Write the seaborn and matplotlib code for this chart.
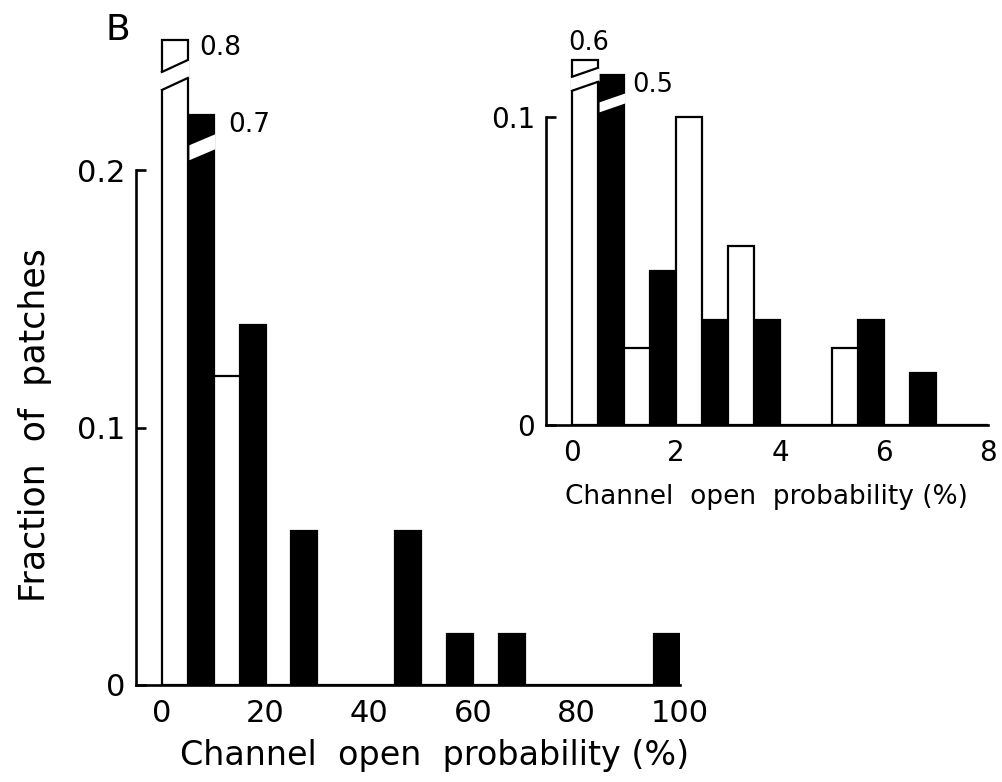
import numpy as np
import pandas as pd
import matplotlib
matplotlib.use("Agg")
import matplotlib.pyplot as plt
import seaborn as sns
from matplotlib.patches import Polygon

# ---------------- data ----------------
main_bin_centers = [5, 15, 25, 35, 45, 55, 65, 75, 85, 95]
main_open = [0.8, 0.12, 0, 0, 0, 0, 0, 0, 0, 0]
main_filled = [0.7, 0.14, 0.06, 0, 0.06, 0.02, 0.02, 0, 0, 0.02]
main_xticks = [0, 20, 40, 60, 80, 100]
main_yticks = [0, 0.1, 0.2]
main_ytick_labels = ["0", "0.1", "0.2"]

inset_bin_centers = [0.5, 1.5, 2.5, 3.5, 4.5, 5.5, 6.5, 7.5]
inset_open = [0.6, 0.025, 0.1, 0.058, 0, 0.025, 0, 0]
inset_filled = [0.5, 0.05, 0.034, 0.034, 0, 0.034, 0.017, 0]
inset_xticks = [0, 2, 4, 6, 8]
inset_yticks = [0, 0.1]
inset_ytick_labels = ["0", "0.1"]

series = ["open", "filled"]
x_label = "Channel  open  probability (%)"
y_label = "Fraction  of  patches"
panel_label = "B"

# ---------------- styling ----------------
sns.set_style("white")
plt.rcParams["font.family"] = ["DejaVu Sans"]
for k in ["text.color", "axes.labelcolor", "xtick.color", "ytick.color", "axes.edgecolor"]:
    plt.rcParams[k] = "black"

W, H = 1003, 782
fig = plt.figure(figsize=(W / 100, H / 100), dpi=100)

EDGE_LW = 1.6
SPINE_LW = 1.9
palette = {"open": "white", "filled": "black"}


def add_axes_px(left, right, bottom, top):
    return fig.add_axes([left / W, 1 - bottom / H, (right - left) / W, (bottom - top) / H])


def make_df(centers, a, b, caps):
    rows = []
    for c, va, vb in zip(centers, a, b):
        rows.append(dict(center=c, series="open", value=va, shown=min(va, caps["open"])))
        rows.append(dict(center=c, series="filled", value=vb, shown=min(vb, caps["filled"])))
    return pd.DataFrame(rows)


def draw_panel(ax, df, binwidth, binrange, xlim, ylim, ybound, xticks, yticks, ylabels,
               caps, brk, lab, tick_fs, lab_fs, xpad):
    sns.histplot(data=df, x="center", weights="shown", hue="series", hue_order=series,
                 palette=palette, multiple="dodge", binwidth=binwidth, binrange=binrange,
                 shrink=1, alpha=1, edgecolor="black", linewidth=EDGE_LW, legend=False, ax=ax)
    ax.set_xlim(*xlim)
    ax.set_ylim(*ylim)
    ax.set_facecolor("none")
    ax.set_xlabel("")
    ax.set_ylabel("")
    for s in ["top", "right"]:
        ax.spines[s].set_visible(False)
    ax.spines["left"].set_bounds(0, ybound)
    for s in ["left", "bottom"]:
        ax.spines[s].set_linewidth(SPINE_LW)
        ax.spines[s].set_color("black")
    ax.set_xticks(xticks)
    ax.set_xticklabels([f"{t:g}" for t in xticks])
    ax.set_yticks(yticks)
    ax.set_yticklabels(ylabels)
    ax.tick_params(axis="y", direction="in", length=7, width=SPINE_LW, pad=8,
                   labelsize=tick_fs, left=True)
    ax.tick_params(axis="x", length=0, pad=xpad, labelsize=tick_fs, bottom=True)

    # pixel -> data conversion
    pos = ax.get_position()
    ax_w_px = pos.width * W
    ax_h_px = pos.height * H
    dxp = (xlim[1] - xlim[0]) / ax_w_px
    dyp = (ylim[1] - ylim[0]) / ax_h_px

    # broken bars
    for p in ax.patches:
        h = p.get_height()
        x0, w = p.get_x(), p.get_width()
        fc = p.get_facecolor()
        s = "open" if fc[0] > 0.5 else "filled"
        if not np.isclose(h, caps[s]):
            continue
        idx = int(np.floor((x0 + w / 2 - binrange[0]) / binwidth))
        sub = df[(df["series"] == s)].reset_index(drop=True)
        val = sub.loc[idx, "value"]
        ub_left, slope, gap = brk[s]
        e = 1.6 * dxp
        xl = x0 - e if s == "open" else x0 + e
        xr = x0 + w + e

        def yub(x):
            return h - ub_left * dyp + slope * dyp * (x - x0) / w

        def ylt(x):
            return yub(x) - gap * dyp

        poly = Polygon([(xl, yub(xl)), (xr, yub(xr)), (xr, ylt(xr)), (xl, ylt(xl))],
                       closed=True, facecolor="white", edgecolor="none", lw=0,
                       zorder=5, clip_on=False)
        ax.add_patch(poly)
        if s == "open":
            for f in (yub, ylt):
                ax.plot([x0, x0 + w], [f(x0), f(x0 + w)], color="black", lw=EDGE_LW,
                        solid_capstyle="projecting", zorder=6, clip_on=False)
        mode, dx, dy = lab[s]
        if mode == "right":
            ax.annotate(f"{val:g}", xy=(x0 + w, h), xytext=(dx * 0.72, -dy * 0.72),
                        textcoords="offset points", ha="left", va="center",
                        fontsize=lab_fs, annotation_clip=False)
        else:
            ax.annotate(f"{val:g}", xy=(x0 + w / 2, h), xytext=(dx * 0.72, -dy * 0.72),
                        textcoords="offset points", ha="center", va="center",
                        fontsize=lab_fs, annotation_clip=False)


# ---------------- main panel ----------------
main_caps = {"open": 0.2505, "filled": 0.2214}
main_brk = {"open": (32, 12, 18), "filled": (31, 11, 15)}
main_lab = {"open": ("right", 11, 8), "filled": ("right", 15, 10)}
ax = add_axes_px(136, 680, 685, 28.4)
draw_panel(ax, make_df(main_bin_centers, main_open, main_filled, main_caps),
           10, (0, 100), (-5, 100), (0, 0.255), 0.2, main_xticks, main_yticks,
           main_ytick_labels, main_caps, main_brk, main_lab, 22, 19, 10)
ax.set_xlabel(x_label, fontsize=24)
ax.xaxis.label.set_va("center")
ax.xaxis.set_label_coords((435 - 136) / 544, -(755 - 685) / (685 - 28.4), transform=ax.transAxes)

# ---------------- inset panel ----------------
inset_caps = {"open": 0.1185, "filled": 0.1136}
inset_brk = {"open": (17, 9, 14), "filled": (28, 9, 10)}
inset_lab = {"open": ("center", 4, -17), "filled": ("right", 8, 10)}
ax2 = add_axes_px(546, 988, 425, 49)
draw_panel(ax2, make_df(inset_bin_centers, inset_open, inset_filled, inset_caps),
           1, (0, 8), (-0.5, 8), (0, 0.122), 0.1, inset_xticks, inset_yticks,
           inset_ytick_labels, inset_caps, inset_brk, inset_lab, 20, 18.5, 10)
ax2.set_xlabel(x_label, fontsize=19)
ax2.xaxis.label.set_va("center")
ax2.xaxis.set_label_coords((766 - 546) / 442, -(497 - 425) / (425 - 49), transform=ax2.transAxes)

# ---------------- figure texts ----------------
fig.text(35 / W, 1 - 425 / H, y_label, rotation=90, ha="center", va="center", fontsize=25)
fig.text(106 / W, 1 - 30 / H, panel_label, ha="left", va="center", fontsize=26)

fig.savefig("out.png", dpi=100, facecolor="white")
